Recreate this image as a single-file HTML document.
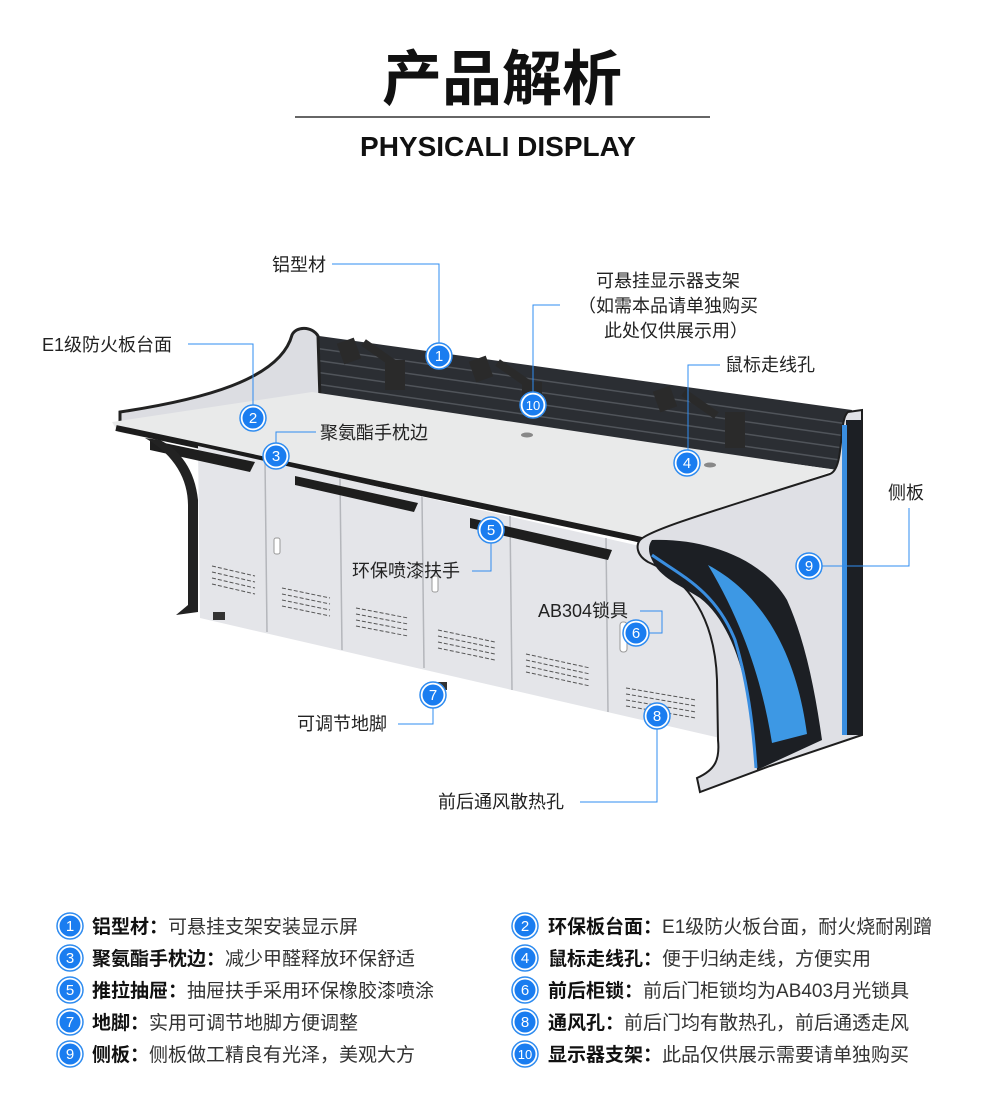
<!DOCTYPE html>
<html><head><meta charset="utf-8"><style>
html,body{margin:0;padding:0;background:#fff;}
body{width:990px;height:1099px;position:relative;overflow:hidden;font-family:"Liberation Sans","Noto Sans CJK SC",sans-serif;}
svg text{font-family:"Liberation Sans","Noto Sans CJK SC",sans-serif;}
</style></head><body>
<svg width="990" height="1099" viewBox="0 0 990 1099" xmlns="http://www.w3.org/2000/svg">
<defs>
<g id="m"><circle r="13" fill="#fff" stroke="#2f8cf0" stroke-width="1.5"/><circle r="10.5" fill="#1a7df0"/></g>
</defs>
<text x="502" y="100" text-anchor="middle" font-size="60" font-weight="bold" fill="#111">产品解析</text>
<line x1="295" y1="117" x2="710" y2="117" stroke="#333" stroke-width="1.5"/>
<text x="498" y="156" text-anchor="middle" font-size="28" font-weight="bold" fill="#111">PHYSICALI DISPLAY</text>

<!-- back slat panel -->
<polygon points="312,335 852,410 838,470 318,398" fill="#2b2e33"/>
<g stroke="#50545a" stroke-width="1.5">
<line x1="314" y1="348" x2="848" y2="424"/><line x1="314" y1="360" x2="846" y2="436"/>
<line x1="315" y1="372" x2="843" y2="448"/><line x1="316" y1="384" x2="840" y2="460"/>
</g>
<!-- left upper side -->
<path d="M120,412 C200,400 280,380 292,335 C296,326 312,326 318,336 L320,400 L120,430 Z" fill="#dcdde2" stroke="#222" stroke-width="3"/>
<!-- desktop -->
<polygon points="112,422 312,392 836,470 640,537 118,432" fill="#e9eaea"/>
<line x1="116" y1="428" x2="642" y2="540" stroke="#1c1c1c" stroke-width="6"/>
<line x1="642" y1="540" x2="832" y2="475" stroke="#1c1c1c" stroke-width="5"/>
<!-- cabinets -->
<polygon points="198,446 640,546 718,600 720,738 200,618" fill="#e4e5e9"/>
<g stroke="#b4b6bb" stroke-width="1.5">
<line x1="265" y1="460" x2="267" y2="632"/><line x1="340" y1="478" x2="342" y2="650"/>
<line x1="422" y1="496" x2="424" y2="668"/><line x1="510" y1="516" x2="512" y2="690"/>
<line x1="606" y1="538" x2="608" y2="712"/>
</g>
<g stroke="#555" stroke-width="1" stroke-dasharray="4 2">
<line x1="212" y1="566" x2="255" y2="576"/><line x1="212" y1="572" x2="255" y2="582"/><line x1="212" y1="578" x2="255" y2="588"/><line x1="212" y1="584" x2="255" y2="594"/>
<line x1="282" y1="588" x2="330" y2="598"/><line x1="282" y1="594" x2="330" y2="604"/><line x1="282" y1="600" x2="330" y2="610"/><line x1="282" y1="606" x2="330" y2="616"/>
<line x1="356" y1="608" x2="408" y2="618"/><line x1="356" y1="614" x2="408" y2="624"/><line x1="356" y1="620" x2="408" y2="630"/><line x1="356" y1="626" x2="408" y2="636"/>
<line x1="438" y1="630" x2="495" y2="642"/><line x1="438" y1="636" x2="495" y2="648"/><line x1="438" y1="642" x2="495" y2="654"/><line x1="438" y1="648" x2="495" y2="660"/>
<line x1="526" y1="654" x2="590" y2="668"/><line x1="526" y1="660" x2="590" y2="674"/><line x1="526" y1="666" x2="590" y2="680"/><line x1="526" y1="672" x2="590" y2="686"/>
<line x1="626" y1="688" x2="696" y2="700"/><line x1="626" y1="694" x2="696" y2="706"/><line x1="626" y1="700" x2="696" y2="712"/><line x1="626" y1="706" x2="696" y2="718"/>
</g>
<rect x="274" y="538" width="6" height="16" rx="2" fill="#fff" stroke="#999"/>
<rect x="432" y="576" width="6" height="16" rx="2" fill="#fff" stroke="#999"/>
<rect x="620" y="622" width="7" height="30" rx="3" fill="#fff" stroke="#999"/>
<!-- handles -->
<polygon points="150,440 255,462 250,472 150,450" fill="#1e1e1e"/>
<polygon points="295,476 418,503 414,512 295,485" fill="#1e1e1e"/>
<polygon points="470,518 612,550 608,560 470,528" fill="#1e1e1e"/>
<!-- left leg -->
<path d="M145,438 C175,455 188,480 188,505 L188,605 L176,615 L198,612 L198,500 C195,470 180,450 160,440 Z" fill="#222"/>
<rect x="213" y="612" width="12" height="8" fill="#333"/><rect x="435" y="682" width="12" height="8" fill="#333"/>
<!-- right side panel -->
<path d="M640,540 C650,530 700,515 830,474 C845,468 838,420 848,412 L862,410 L862,735 L770,766 L700,792 L697,778 C715,770 720,760 718,740 L717,680 C715,620 690,580 648,562 C636,555 636,545 640,540 Z" fill="#dfe0e5" stroke="#1e1e1e" stroke-width="2"/>
<rect x="846" y="420" width="16" height="315" fill="#1c1f24"/>
<rect x="842" y="425" width="5" height="310" fill="#3a8ee0"/>
<path d="M652,540 C700,538 760,555 787,600 C805,640 815,690 822,740 L757,770 C752,690 735,625 700,598 C680,585 660,578 652,560 C648,552 648,545 652,540 Z" fill="#1c1f24"/>
<path d="M652,555 C680,575 715,590 735,640 C750,690 754,740 756,768" fill="none" stroke="#3a8ee0" stroke-width="3"/>
<path d="M708,565 C770,598 798,665 807,734 L772,743 C762,680 742,622 708,565 Z" fill="#3d98e4"/>
<!-- monitor mounts -->
<g fill="#2a2a2a">
<rect x="340" y="340" width="18" height="22" transform="rotate(-20 349 351)"/><rect x="360" y="350" width="40" height="8" transform="rotate(35 380 354)"/><rect x="385" y="360" width="20" height="30"/>
<rect x="472" y="358" width="18" height="22" transform="rotate(-20 481 369)"/><rect x="494" y="370" width="40" height="8" transform="rotate(35 514 374)"/><rect x="522" y="382" width="20" height="30"/>
<rect x="656" y="388" width="18" height="22" transform="rotate(-20 665 399)"/><rect x="680" y="400" width="40" height="8" transform="rotate(35 700 404)"/><rect x="725" y="412" width="20" height="36"/>
</g>
<ellipse cx="527" cy="435" rx="6" ry="2.5" fill="#888"/><ellipse cx="710" cy="465" rx="6" ry="2.5" fill="#888"/>

<!-- leaders -->
<g fill="none" stroke="#2f8cf0" stroke-width="1">
<polyline points="332,264 439,264 439,344"/>
<polyline points="188,344 253,344 253,406"/>
<polyline points="276,444 276,432 316,432"/>
<polyline points="533,393 533,305 560,305"/>
<polyline points="720,365 688,365 688,451"/>
<polyline points="909,508 909,566 821,566"/>
<polyline points="491,542 491,571 472,571"/>
<polyline points="640,611 662,611 662,633 648,633"/>
<polyline points="433,707 433,724 398,724"/>
<polyline points="657,728 657,802 580,802"/>
</g>
<g font-size="18" fill="#222">
<text x="272" y="271">铝型材</text>
<text x="42" y="351">E1级防火板台面</text>
<text x="320" y="439">聚氨酯手枕边</text>
<text x="668" y="287" text-anchor="middle">可悬挂显示器支架</text>
<text x="668" y="312" text-anchor="middle">（如需本品请单独购买</text>
<text x="676" y="337" text-anchor="middle">此处仅供展示用）</text>
<text x="725" y="371">鼠标走线孔</text>
<text x="888" y="499">侧板</text>
<text x="352" y="577">环保喷漆扶手</text>
<text x="538" y="617">AB304锁具</text>
<text x="297" y="730">可调节地脚</text>
<text x="438" y="808">前后通风散热孔</text>
</g>
<g font-size="15" fill="#fff" text-anchor="middle">
<use href="#m" x="439" y="356"/><text x="439" y="361">1</text>
<use href="#m" x="253" y="418"/><text x="253" y="423">2</text>
<use href="#m" x="276" y="456"/><text x="276" y="461">3</text>
<use href="#m" x="687" y="463"/><text x="687" y="468">4</text>
<use href="#m" x="491" y="530"/><text x="491" y="535">5</text>
<use href="#m" x="636" y="633"/><text x="636" y="638">6</text>
<use href="#m" x="433" y="695"/><text x="433" y="700">7</text>
<use href="#m" x="657" y="716"/><text x="657" y="721">8</text>
<use href="#m" x="809" y="566"/><text x="809" y="571">9</text>
<use href="#m" x="533" y="405"/><text x="533" y="410" font-size="13">10</text>
</g>

<!-- bottom list -->
<g font-size="15" fill="#fff" text-anchor="middle">
<use href="#m" x="70" y="926"/><text x="70" y="931">1</text>
<use href="#m" x="70" y="958"/><text x="70" y="963">3</text>
<use href="#m" x="70" y="990"/><text x="70" y="995">5</text>
<use href="#m" x="70" y="1022"/><text x="70" y="1027">7</text>
<use href="#m" x="70" y="1054"/><text x="70" y="1059">9</text>
<use href="#m" x="525" y="926"/><text x="525" y="931">2</text>
<use href="#m" x="525" y="958"/><text x="525" y="963">4</text>
<use href="#m" x="525" y="990"/><text x="525" y="995">6</text>
<use href="#m" x="525" y="1022"/><text x="525" y="1027">8</text>
<use href="#m" x="525" y="1054"/><text x="525" y="1059" font-size="13">10</text>
</g>
<g font-size="19" fill="#333">
<text x="92" y="933"><tspan font-weight="bold" fill="#111">铝型材：</tspan>可悬挂支架安装显示屏</text>
<text x="92" y="965"><tspan font-weight="bold" fill="#111">聚氨酯手枕边：</tspan>减少甲醛释放环保舒适</text>
<text x="92" y="997"><tspan font-weight="bold" fill="#111">推拉抽屉：</tspan>抽屉扶手采用环保橡胶漆喷涂</text>
<text x="92" y="1029"><tspan font-weight="bold" fill="#111">地脚：</tspan>实用可调节地脚方便调整</text>
<text x="92" y="1061"><tspan font-weight="bold" fill="#111">侧板：</tspan>侧板做工精良有光泽，美观大方</text>
<text x="548" y="933"><tspan font-weight="bold" fill="#111">环保板台面：</tspan>E1级防火板台面，耐火烧耐剐蹭</text>
<text x="548" y="965"><tspan font-weight="bold" fill="#111">鼠标走线孔：</tspan>便于归纳走线，方便实用</text>
<text x="548" y="997"><tspan font-weight="bold" fill="#111">前后柜锁：</tspan>前后门柜锁均为AB403月光锁具</text>
<text x="548" y="1029"><tspan font-weight="bold" fill="#111">通风孔：</tspan>前后门均有散热孔，前后通透走风</text>
<text x="548" y="1061"><tspan font-weight="bold" fill="#111">显示器支架：</tspan>此品仅供展示需要请单独购买</text>
</g>
</svg>
</body></html>
